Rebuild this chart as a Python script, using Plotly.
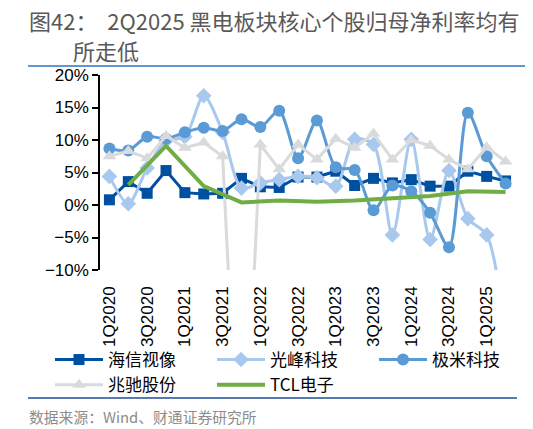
import plotly.graph_objects as go

quarters = ["1Q2020", "2Q2020", "3Q2020", "4Q2020",
            "1Q2021", "2Q2021", "3Q2021", "4Q2021",
            "1Q2022", "2Q2022", "3Q2022", "4Q2022",
            "1Q2023", "2Q2023", "3Q2023", "4Q2023",
            "1Q2024", "2Q2024", "3Q2024", "4Q2024",
            "1Q2025", "2Q2025"]
tick_labels = quarters[::2]

hisense = [0.8, 3.6, 1.8, 5.3, 1.9, 1.7, 1.8, 4.1, 2.8, 2.7, 4.3, 4.3,
           5.2, 3.0, 4.1, 3.4, 3.9, 2.9, 2.9, 5.2, 4.4, 3.7]
appotronics = [4.4, 0.2, 5.7, 9.9, 10.5, 16.8, 11.2, 2.6, 3.4, 3.9, 4.4, 4.2,
               2.9, 10.1, 9.3, -4.6, 10.1, -5.3, 5.3, -2.1, -4.6, -20.0]
xgimi = [8.7, 8.4, 10.5, 10.2, 11.2, 11.9, 11.4, 13.2, 12.0, 14.5, 7.2, 13.0,
         5.8, 5.4, -0.8, 3.0, 2.1, -1.2, -6.5, 14.2, 7.5, 3.3]
mtc = [7.5, 8.3, 7.2, 10.6, 8.8, 9.6, 7.5, -51.0, 9.3, 5.5, 9.3, 7.0,
       10.2, 8.8, 11.0, 7.0, 10.0, 9.1, 7.0, 5.5, 8.9, 6.7]
tcl = [None, 3.1, None, 9.1, None, 2.9, None, 0.4, None, 0.7, None, 0.5,
       None, 0.7, None, 1.0, None, 1.4, None, 2.1, None, 2.0]

names = ["海信视像", "光峰科技", "极米科技", "兆驰股份", "TCL电子"]

W, H = 533, 429
ML, MR, MT, MB = 100, 18, 75, 159
PW, PH = W - ML - MR, H - MT - MB


def px(xp):
    return (xp - ML) / PW


def py(yp):
    return (H - MB - yp) / PH


fig = go.Figure()
fig.add_trace(go.Scatter(x=quarters, y=hisense, name=names[0], mode="lines+markers",
                         line=dict(color="#0050A2", width=3),
                         marker=dict(symbol="square", size=11, color="#0050A2")))
fig.add_trace(go.Scatter(x=quarters, y=appotronics, name=names[1], mode="lines+markers",
                         line=dict(color="#A8C8EE", width=3, shape="spline", smoothing=0.8),
                         marker=dict(symbol="diamond", size=12, color="#A8C8EE")))
fig.add_trace(go.Scatter(x=quarters, y=xgimi, name=names[2], mode="lines+markers",
                         line=dict(color="#5B9BD5", width=3, shape="spline", smoothing=0.8),
                         marker=dict(symbol="circle", size=12, color="#5B9BD5")))
fig.add_trace(go.Scatter(x=quarters, y=mtc, name=names[3], mode="lines+markers",
                         line=dict(color="#D8DADC", width=3),
                         marker=dict(symbol="triangle-up", size=12, color="#D8DADC")))
fig.add_trace(go.Scatter(x=quarters, y=tcl, name=names[4], mode="lines",
                         connectgaps=True,
                         line=dict(color="#70AD47", width=4)))

axis_font = dict(family="Arial, Liberation Sans, sans-serif", size=17, color="#000000")
cjk = "Noto Sans CJK SC, Arial, sans-serif"

fig.update_layout(
    template="none",
    width=W, height=H,
    margin=dict(l=ML, r=MR, t=MT, b=MB, autoexpand=False),
    plot_bgcolor="white", paper_bgcolor="white",
    font=dict(family="Arial, Liberation Sans, Noto Sans CJK SC, sans-serif", color="#000000"),
    xaxis=dict(type="category", categoryorder="array", categoryarray=quarters,
               range=[-0.5, len(quarters) - 0.5], automargin=False,
               tickmode="array", tickvals=tick_labels, ticktext=tick_labels,
               tickangle=-90, ticks="", showline=False, showgrid=False, zeroline=False,
               tickfont=axis_font, ticklabelstandoff=12),
    xaxis2=dict(overlaying="x", anchor="free", position=1/3, side="bottom",
                type="linear", range=[-0.5, len(quarters) - 0.5], automargin=False,
                tickmode="linear", tick0=-0.5, dtick=1,
                ticks="outside", ticklen=5, tickwidth=1.5, tickcolor="#000000",
                showline=True, linecolor="#000000", linewidth=1.5,
                showticklabels=False, showgrid=False, zeroline=False),
    yaxis=dict(range=[-10, 20], dtick=5, tick0=0, ticksuffix="%", automargin=False,
               showline=True, linecolor="#000000", linewidth=1.5,
               ticks="outside", ticklen=6, tickwidth=1.5, tickcolor="#000000",
               showgrid=False, zeroline=False, tickfont=axis_font),
    legend=dict(orientation="h", x=px(50), y=py(342), xanchor="left", yanchor="top",
                itemwidth=48, entrywidth=99, entrywidthmode="pixels",
                font=dict(family=cjk, size=17, color="#000000"),
                bgcolor="rgba(0,0,0,0)"),
    showlegend=True,
)

gray = "#595959"
fig.add_annotation(text="图42：  2Q2025 黑电板块核心个股归母净利率均有", xref="paper", yref="paper",
                   x=px(27), y=py(20), xanchor="left", yanchor="middle",
                   showarrow=False, font=dict(family=cjk, size=22, color=gray))
fig.add_annotation(text="所走低", xref="paper", yref="paper",
                   x=px(71), y=py(50), xanchor="left", yanchor="middle",
                   showarrow=False, font=dict(family=cjk, size=22, color=gray))
fig.add_annotation(text="数据来源：Wind、财通证券研究所", xref="paper", yref="paper",
                   x=px(27), y=py(416), xanchor="left", yanchor="middle",
                   showarrow=False, font=dict(family=cjk, size=14.8, color="#8C8C8C"))
fig.add_shape(type="line", xref="paper", yref="paper",
              x0=px(28), x1=px(525), y0=py(66), y1=py(66),
              line=dict(color="#2E74C0", width=1.5))
fig.add_shape(type="line", xref="paper", yref="paper",
              x0=px(28), x1=px(517), y0=py(398), y1=py(398),
              line=dict(color="#1F4E99", width=1.5))

fig.write_html("out.html", config={"displayModeBar": False},
               post_script="document.body.style.margin='0px';")
